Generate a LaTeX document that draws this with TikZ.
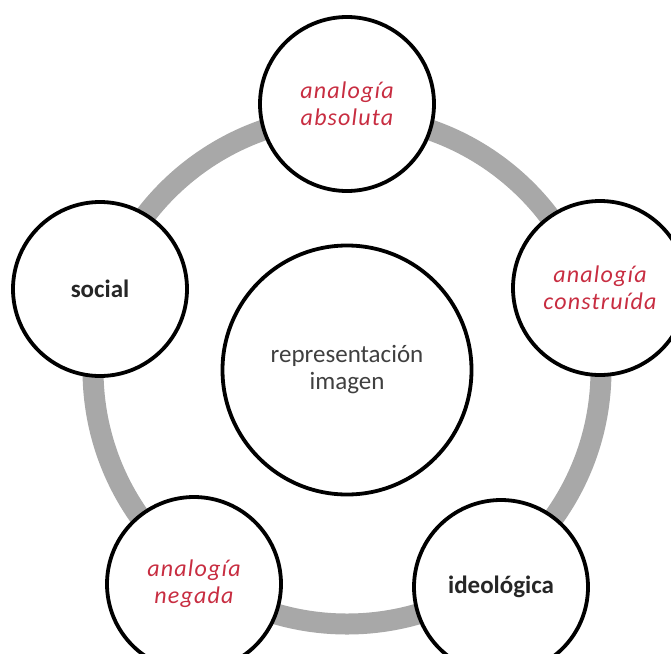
\documentclass[tikz,border=0pt]{standalone}
\usepackage{fontspec}
\setmainfont{Carlito}
\newfontfamily\spacedfont[LetterSpace=5]{Carlito}

\definecolor{ringgray}{RGB}{168,168,168}
\definecolor{accent}{RGB}{200,45,65}
\definecolor{centertext}{RGB}{64,64,64}

\tikzset{
  satellite/.style={circle, draw=black, line width=3.8pt, fill=white,
    minimum size=174pt, inner sep=0pt, align=center},
  hub/.style={circle, draw=black, line width=3.8pt, fill=white,
    minimum size=249pt, inner sep=0pt, align=center,
    text=centertext, font=\fontsize{25}{27}\selectfont},
  redlabel/.style={text=accent, font=\spacedfont\itshape\fontsize{24}{27}\selectfont},
  blacklabel/.style={text=black!85, font=\bfseries\fontsize{25}{30}\selectfont}
}

\begin{document}
\begin{tikzpicture}[x=1pt,y=-1pt]
  \useasboundingbox (0,0) rectangle (671,653);
  \coordinate (o) at (347,370);
  % grey ring linking the five satellites
  \draw[ringgray, line width=21pt] (o) circle (254pt);

  \node[hub] (rep) at (o) {representación\\imagen};

  \node[satellite, redlabel]   (abs) at (347,104) {analogía\\absoluta};
  \node[satellite, redlabel]   (con) at (600,288) {analogía\\construída};
  \node[satellite, blacklabel] (ide) at (501,587) {ideológica};
  \node[satellite, redlabel]   (neg) at (194,584) {analogía\\negada};
  \node[satellite, blacklabel] (soc) at (100,289) {social};
\end{tikzpicture}
\end{document}
